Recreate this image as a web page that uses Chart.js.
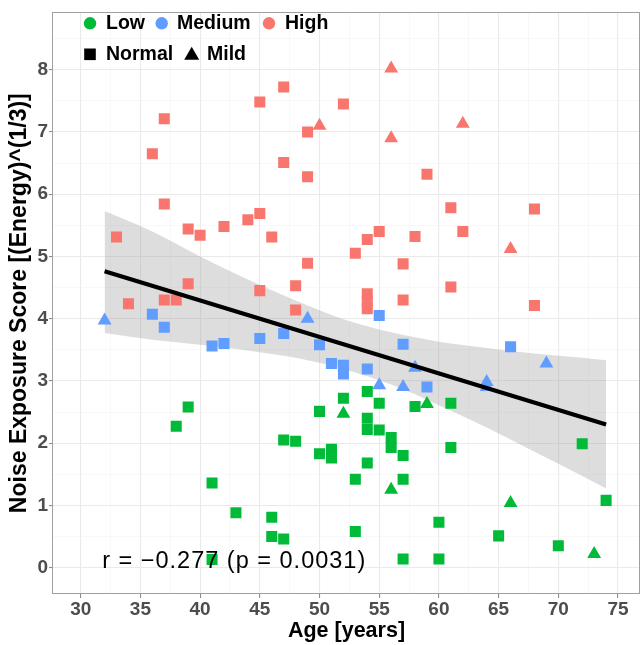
<!DOCTYPE html>
<html><head><meta charset="utf-8">
<script src="https://cdn.jsdelivr.net/npm/chart.js@4/dist/chart.umd.min.js"></script>
<style>html,body{margin:0;padding:0;background:#fff}#wrap{width:641px;height:645px}</style>
</head><body><div id="wrap"><canvas id="c" width="641" height="645"></canvas></div>
<script>
// ---- data ----
const lowNormalAge   = [38,39,41,41,43,46,46,47,47,48,50,50,51,51,52,53,53,54,54,54,54,55,55,56,56,57,57,57,58,60,60,61,61,65,70,72,74];
const lowNormalScore = [2.27,2.58,1.36,0.13,0.88,0.81,0.50,2.05,0.46,2.03,2.51,1.83,1.90,1.76,2.72,1.42,0.58,2.83,2.40,2.22,1.68,2.64,2.21,2.09,1.93,1.80,1.42,0.14,2.59,0.73,0.14,2.64,1.93,0.51,0.35,1.99,1.08];
const lowMildAge     = [52,56,59,66,73];
const lowMildScore   = [2.47,1.25,2.63,1.04,0.22];
const medNormalAge   = [36,37,41,42,45,47,50,51,52,52,54,55,57,59,66];
const medNormalScore = [4.07,3.86,3.56,3.60,3.68,3.76,3.58,3.28,3.25,3.11,3.19,4.05,3.59,2.90,3.55];
const medMildAge     = [32,49,55,57,58,64,64,69];
const medMildScore   = [3.97,4.00,2.93,2.90,3.21,2.98,2.90,3.28];
const highNormalAge  = [33,34,36,37,37,37,38,39,39,40,42,44,45,45,45,46,47,47,48,48,49,49,49,52,53,54,54,54,54,55,57,57,58,59,61,61,62,68,68];
const highNormalScore= [5.31,4.24,6.65,7.21,5.84,4.30,4.30,5.44,4.56,5.34,5.48,5.59,7.48,5.69,4.45,5.31,7.72,6.51,4.53,4.14,7.00,6.28,4.89,7.45,5.05,5.27,4.40,4.28,4.16,5.40,4.88,4.30,5.32,6.32,5.78,4.51,5.40,5.76,4.21];
const highMildAge    = [50,56,56,62,66];
const highMildScore  = [7.10,8.02,6.90,7.13,5.12];

const fitAge   = [32, 74];
const fitScore = [4.76, 2.30];
const bandAge   = [32,36,40,44,48,52,56,60,64,68,72,74];
const bandUpper = [5.73,5.40,5.00,4.63,4.29,3.99,3.78,3.63,3.53,3.44,3.37,3.33];
const bandLower = [3.77,3.66,3.58,3.49,3.37,3.19,2.94,2.61,2.25,1.86,1.47,1.27];

const xMajorTicks = [30,35,40,45,50,55,60,65,70,75];
const xMinorTicks = [32.5,37.5,42.5,47.5,52.5,57.5,62.5,67.5,72.5];
const yMajorTicks = [0,1,2,3,4,5,6,7,8];
const yMinorTicks = [0.5,1.5,2.5,3.5,4.5,5.5,6.5,7.5,8.5];

const xTitle = 'Age [years]';
const yTitle = 'Noise Exposure Score [(Energy)^(1/3)]';
const statText = 'r = \u22120.277 (p = 0.0031)';
const legendLevels = ['Low','Medium','High'];
const legendShapes = ['Normal','Mild'];

// ---- styling ----
const FONT = '"Liberation Sans", Arial, Helvetica, sans-serif';
const GREEN = '#00BA38', BLUE = '#619CFF', RED = '#F8766D';
const xMin = 27.68, xMax = 76.84, yMin = -0.424, yMax = 8.92;

const pts = (xs, ys) => xs.map((x, i) => ({x, y: ys[i]}));
const pointSet = (label, xs, ys, color, shape) => ({
  label, data: pts(xs, ys), backgroundColor: color, borderColor: color,
  pointStyle: shape, pointRadius: shape === 'triangle' ? 8 : 7.8,
  borderWidth: 0, pointBorderWidth: 0, showLine: false, order: 1
});

const frame = {
  id: 'frame',
  afterDatasetsDraw(chart) {
    const {ctx, chartArea: a, scales} = chart;
    ctx.save();
    ctx.strokeStyle = '#A0A0A0'; ctx.lineWidth = 1;
    ctx.strokeRect(Math.round(a.left) - 0.5, Math.round(a.top) + 0.5, Math.round(a.right - a.left), Math.round(a.bottom - a.top) - 1);
    // stat annotation
    ctx.fillStyle = '#000';
    ctx.font = '23.5px ' + FONT;
    ctx.textBaseline = 'middle'; ctx.textAlign = 'left';
    try { ctx.letterSpacing = '1px'; } catch (e) {}
    ctx.fillText(statText, scales.x.getPixelForValue(31.8), scales.y.getPixelForValue(0.09));
    try { ctx.letterSpacing = '0px'; } catch (e) {}
    // legend
    ctx.font = 'bold 19.5px ' + FONT;
    const cols = [GREEN, BLUE, RED];
    const symX = [90, 161.7, 269], txtX = [106, 177, 285];
    const r1 = 23.3;
    legendLevels.forEach((t, i) => {
      ctx.fillStyle = cols[i];
      ctx.beginPath(); ctx.arc(symX[i], r1, 6.2, 0, Math.PI * 2); ctx.fill();
      ctx.fillStyle = '#000';
      ctx.fillText(t, txtX[i], r1 + 0.5);
    });
    const r2 = 54.3;
    ctx.fillStyle = '#000';
    ctx.fillRect(90 - 5.8, r2 - 5.8, 11.6, 11.6);
    ctx.fillText(legendShapes[0], 106, r2 + 0.5);
    ctx.beginPath();
    ctx.moveTo(191.7, r2 - 7.5); ctx.lineTo(199.2, r2 + 5.5); ctx.lineTo(184.2, r2 + 5.5); ctx.closePath(); ctx.fill();
    ctx.fillText(legendShapes[1], 207, r2 + 0.5);
    ctx.restore();
  }
};

const gridOpts = (majors) => ({
  color: c => majors.includes(c.tick && c.tick.value) ? '#EAEAEA' : '#F4F4F4',
  lineWidth: c => majors.includes(c.tick && c.tick.value) ? 1.1 : 0.6,
  tickColor: c => majors.includes(c.tick && c.tick.value) ? '#8C8C8C' : 'rgba(0,0,0,0)',
  tickLength: 4, drawTicks: true
});

new Chart(document.getElementById('c'), {
  type: 'scatter',
  data: {
    datasets: [
      {label: 'fit', data: pts(fitAge, fitScore), showLine: true, borderColor: '#000', borderWidth: 4.2,
       pointRadius: 0, fill: false, order: 0},
      pointSet('Low Normal', lowNormalAge, lowNormalScore, GREEN, 'rect'),
      pointSet('Low Mild', lowMildAge, lowMildScore, GREEN, 'triangle'),
      pointSet('Medium Normal', medNormalAge, medNormalScore, BLUE, 'rect'),
      pointSet('Medium Mild', medMildAge, medMildScore, BLUE, 'triangle'),
      pointSet('High Normal', highNormalAge, highNormalScore, RED, 'rect'),
      pointSet('High Mild', highMildAge, highMildScore, RED, 'triangle'),
      {label: 'upper', data: pts(bandAge, bandUpper), showLine: true, borderWidth: 0, borderColor: 'rgba(0,0,0,0)',
       pointRadius: 0, fill: '+1', backgroundColor: 'rgba(153,153,153,0.33)', cubicInterpolationMode: 'monotone', order: 2},
      {label: 'lower', data: pts(bandAge, bandLower), showLine: true, borderWidth: 0, borderColor: 'rgba(0,0,0,0)',
       pointRadius: 0, fill: false, cubicInterpolationMode: 'monotone', order: 2}
    ]
  },
  options: {
    responsive: false, animation: false, events: [],
    layout: {autoPadding: false, padding: {left: 0, right: 1, top: 10, bottom: 0}},
    plugins: {legend: {display: false}, tooltip: {enabled: false}},
    scales: {
      x: {
        type: 'linear', min: xMin, max: xMax,
        afterBuildTicks: s => { s.ticks = xMajorTicks.concat(xMinorTicks).sort((a,b)=>a-b).map(v => ({value: v})); },
        afterFit: s => { s.height = 51; },
        ticks: {autoSkip: false, maxRotation: 0, minRotation: 0, padding: 0, color: '#4D4D4D',
                font: {family: FONT, size: 19, weight: 'bold'},
                callback: v => xMajorTicks.includes(v) ? String(v) : ''},
        grid: gridOpts(xMajorTicks),
        border: {display: false},
        title: {display: true, text: xTitle, color: '#000', font: {family: FONT, size: 21.5, weight: 'bold'},
                padding: {top: 0, bottom: 1.5}}
      },
      y: {
        type: 'linear', min: yMin, max: yMax,
        afterBuildTicks: s => { s.ticks = yMajorTicks.concat(yMinorTicks).sort((a,b)=>a-b).map(v => ({value: v})); },
        afterFit: s => { s.width = 53; },
        ticks: {autoSkip: false, padding: 1, color: '#4D4D4D',
                font: {family: FONT, size: 19, weight: 'bold'},
                callback: v => yMajorTicks.includes(v) ? String(v) : ''},
        grid: gridOpts(yMajorTicks),
        border: {display: false},
        title: {display: true, text: yTitle, color: '#000', font: {family: FONT, size: 23, weight: 'bold'},
                padding: {top: 5.7, bottom: 0}}
      }
    }
  },
  plugins: [frame]
});
</script>
</body></html>
